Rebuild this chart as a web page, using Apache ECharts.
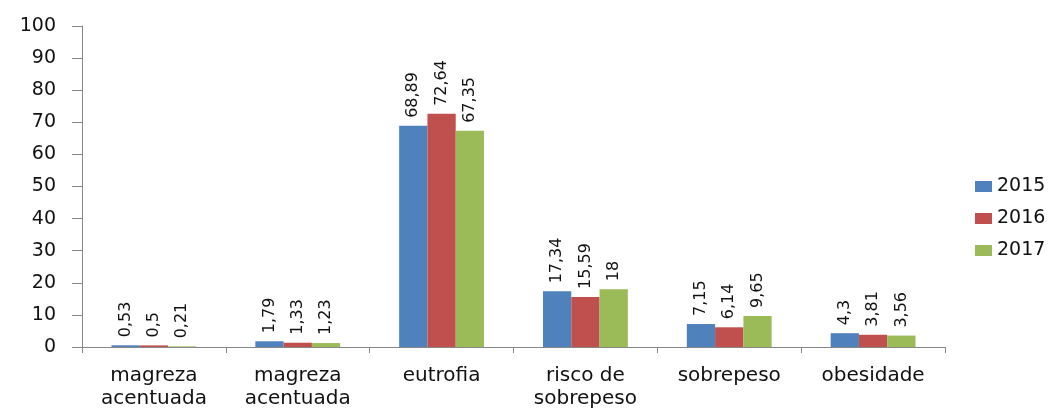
<!DOCTYPE html>
<html>
<head>
<meta charset="utf-8">
<script src="https://cdn.jsdelivr.net/npm/echarts@6/dist/echarts.min.js"></script>
<style>
  html, body { margin: 0; padding: 0; background: #fff; }
  #chart { width: 1059px; height: 410px; }
</style>
</head>
<body>
<div id="chart"></div>
<script>
const categories = ['magreza\nacentuada', 'magreza\nacentuada', 'eutrofia', 'risco de\nsobrepeso', 'sobrepeso', 'obesidade'];
const years = ['2015', '2016', '2017'];
const values2015 = [0.53, 1.79, 68.89, 17.34, 7.15, 4.3];
const values2016 = [0.5, 1.33, 72.64, 15.59, 6.14, 3.81];
const values2017 = [0.21, 1.23, 67.35, 18, 9.65, 3.56];
const colors = ['#4F81BD', '#C0504D', '#9BBB59'];

const font = 'DejaVu Sans, Verdana, sans-serif';

const makeSeries = (name, data, color) => ({
  name,
  type: 'bar',
  data,
  barGap: 0,
  barCategoryGap: '41%',
  itemStyle: { color },
  label: {
    show: true,
    position: 'top',
    rotate: 90,
    align: 'left',
    verticalAlign: 'middle',
    distance: 8,
    color: '#111',
    fontFamily: font,
    fontSize: 16,
    formatter: (p) => String(p.value).replace('.', ',')
  }
});

const chart = echarts.init(document.getElementById('chart'));
chart.setOption({
  animation: false,
  grid: { left: 82, right: 114, top: 26, bottom: 61 },
  legend: {
    orient: 'vertical',
    left: 970,
    top: 172,
    itemWidth: 17,
    itemHeight: 11,
    itemGap: 13,
    icon: 'rect',
    textStyle: { fontFamily: font, fontSize: 19, color: '#111' },
    data: years
  },
  xAxis: {
    type: 'category',
    data: categories,
    axisLine: { lineStyle: { color: '#888' } },
    axisTick: { show: true, length: 6, lineStyle: { color: '#888' } },
    axisLabel: {
      interval: 0,
      margin: 17,
      lineHeight: 23,
      color: '#111',
      fontFamily: font,
      fontSize: 20
    }
  },
  yAxis: {
    type: 'value',
    min: 0,
    max: 100,
    interval: 10,
    splitLine: { show: false },
    axisLine: { show: true, lineStyle: { color: '#888' } },
    axisTick: { show: true, length: 10, lineStyle: { color: '#888' } },
    axisLabel: {
      margin: 26,
      color: '#111',
      fontFamily: font,
      fontSize: 19
    }
  },
  series: [
    makeSeries(years[0], values2015, colors[0]),
    makeSeries(years[1], values2016, colors[1]),
    makeSeries(years[2], values2017, colors[2])
  ]
});
</script>
</body>
</html>
